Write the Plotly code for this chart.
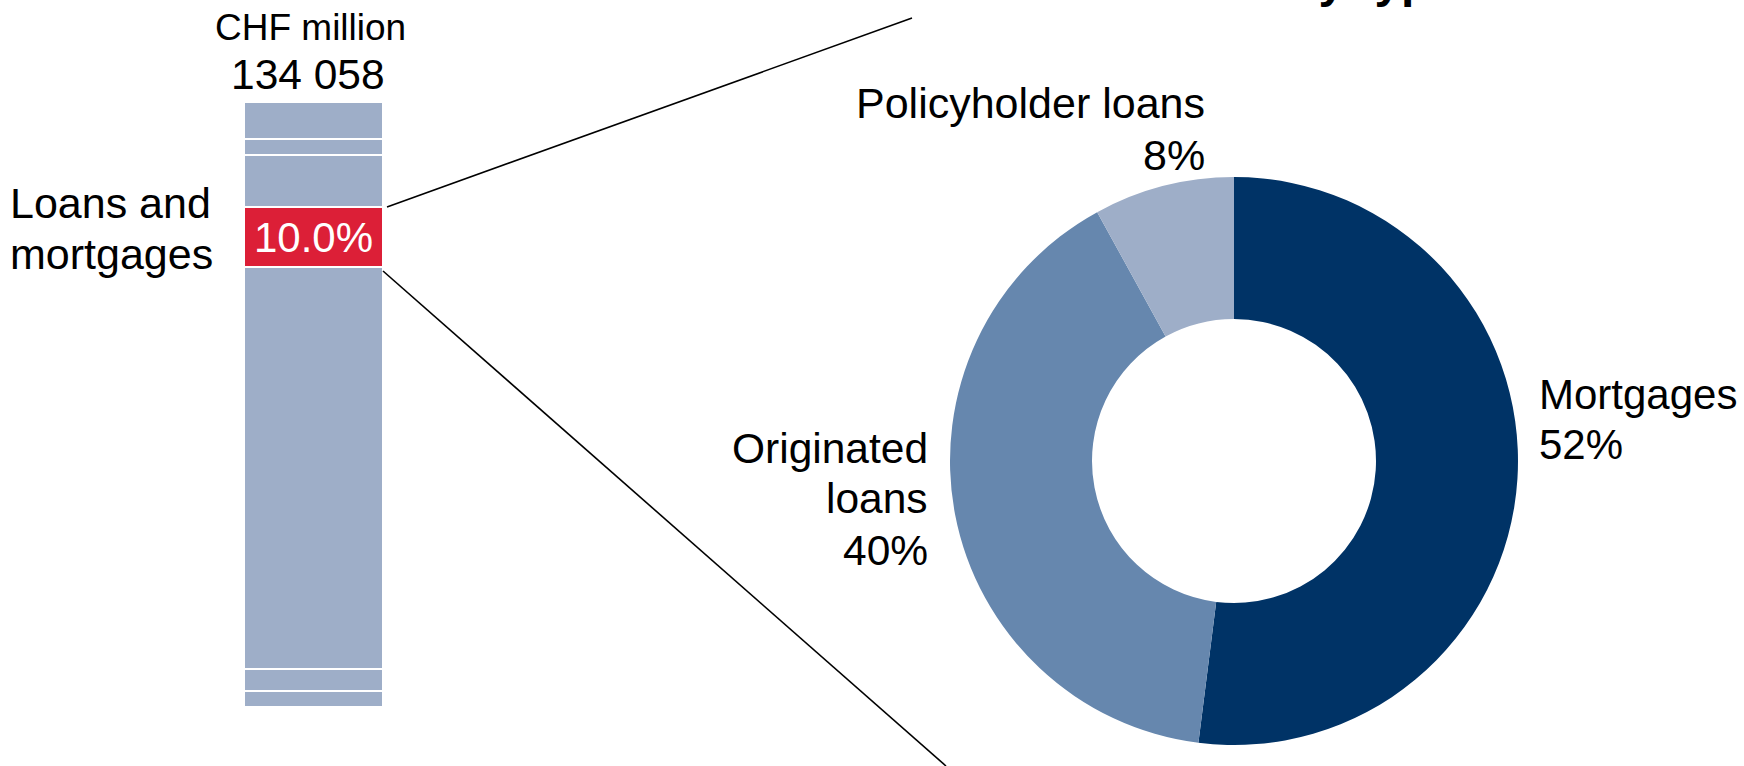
import plotly.graph_objects as go

W, H = 1744, 766
FONT = "Liberation Sans, Arial, sans-serif"

# Investment portfolio split (share of total, %), listed bottom to top of the column
segment_names = ["Other 1", "Other 2", "Other 3", "Loans and mortgages", "Other 4", "Other 5", "Other 6"]
segment_shares = [2.7, 3.6, 66.4, 10.0, 8.5, 2.7, 6.1]
highlight = "Loans and mortgages"
total_chf_million = "134 058"

# Loans and mortgages by type (%)
loan_types = ["Mortgages", "Originated loans", "Policyholder loans"]
loan_shares = [52, 40, 8]
loan_colors = ["#003366", "#6687AE", "#9EAEC8"]

BAR_GREY = "#9EAEC8"
RED = "#DC1F37"


def px_x(x):
    return x / W


def px_y(y):
    return 1 - y / H


fig = go.Figure()

# Stacked 100% column
for name, share in zip(segment_names, segment_shares):
    is_hl = name == highlight
    fig.add_trace(go.Bar(
        x=["Total"], y=[share], name=name,
        marker=dict(color=RED if is_hl else BAR_GREY, line=dict(color="white", width=2)),
        width=1,
        text=[share] if is_hl else None,
        texttemplate="%{y:.1f}%" if is_hl else None,
        textposition="inside" if is_hl else "none",
        insidetextanchor="middle",
        textfont=dict(family=FONT, size=42, color="white"),
        hoverinfo="skip",
        xaxis="x", yaxis="y",
    ))

# Donut of loan types
fig.add_trace(go.Pie(
    labels=loan_types, values=loan_shares,
    marker=dict(colors=loan_colors, line=dict(width=0)),
    hole=0.5, sort=False, direction="clockwise", rotation=0,
    textinfo="none", hoverinfo="skip",
    domain=dict(x=[px_x(950), px_x(1518)], y=[px_y(745), px_y(177)]),
))

fig.update_layout(
    width=W, height=H,
    margin=dict(l=0, r=0, t=0, b=0),
    paper_bgcolor="white", plot_bgcolor="rgba(0,0,0,0)",
    showlegend=False, barmode="stack", bargap=0,
    font=dict(family=FONT, color="black"),
    xaxis=dict(domain=[px_x(244), px_x(383)], range=[-0.5, 0.5], visible=False,
               fixedrange=True),
    yaxis=dict(domain=[px_y(707), px_y(102)], range=[0, 100], visible=False,
               fixedrange=True),
)


def label(text, x, y_mid, size, anchor="center", bold=False, color="black"):
    fig.add_annotation(
        text=f"<b>{text}</b>" if bold else text,
        x=px_x(x), y=px_y(y_mid), xref="paper", yref="paper",
        xanchor=anchor, yanchor="middle", showarrow=False,
        font=dict(family=FONT, size=size, color=color),
    )


# Headline (sits mostly above the visible page)
label("Breakdown by type", 1237, -20, 48, bold=True)

# Column header
label("CHF million", 310, 28, 37)
label(total_chf_million, 308, 74, 42.5)

# Highlighted segment caption
label("Loans and", 8, 203, 43, anchor="left")
label("mortgages", 8, 254, 43, anchor="left")

# Donut captions
shares = dict(zip(loan_types, loan_shares))
label("Policyholder loans", 1207, 103, 43, anchor="right")
label(f"{shares['Policyholder loans']}%", 1207, 155, 43, anchor="right")
label("Mortgages", 1537, 394, 42, anchor="left")
label(f"{shares['Mortgages']}%", 1537, 445, 42, anchor="left")
label("Originated", 930, 448, 42.5, anchor="right")
label("loans", 930, 498, 42.5, anchor="right")
label(f"{shares['Originated loans']}%", 930, 550, 42.5, anchor="right")

# Zoom-out connector lines from the highlighted segment
for (x0, y0, x1, y1) in [(387, 207, 912, 18), (383, 271, 946, 766)]:
    fig.add_shape(type="line", xref="paper", yref="paper",
                  x0=px_x(x0), y0=px_y(y0), x1=px_x(x1), y1=px_y(y1),
                  line=dict(color="black", width=1.6))

fig.write_html("out.html")
